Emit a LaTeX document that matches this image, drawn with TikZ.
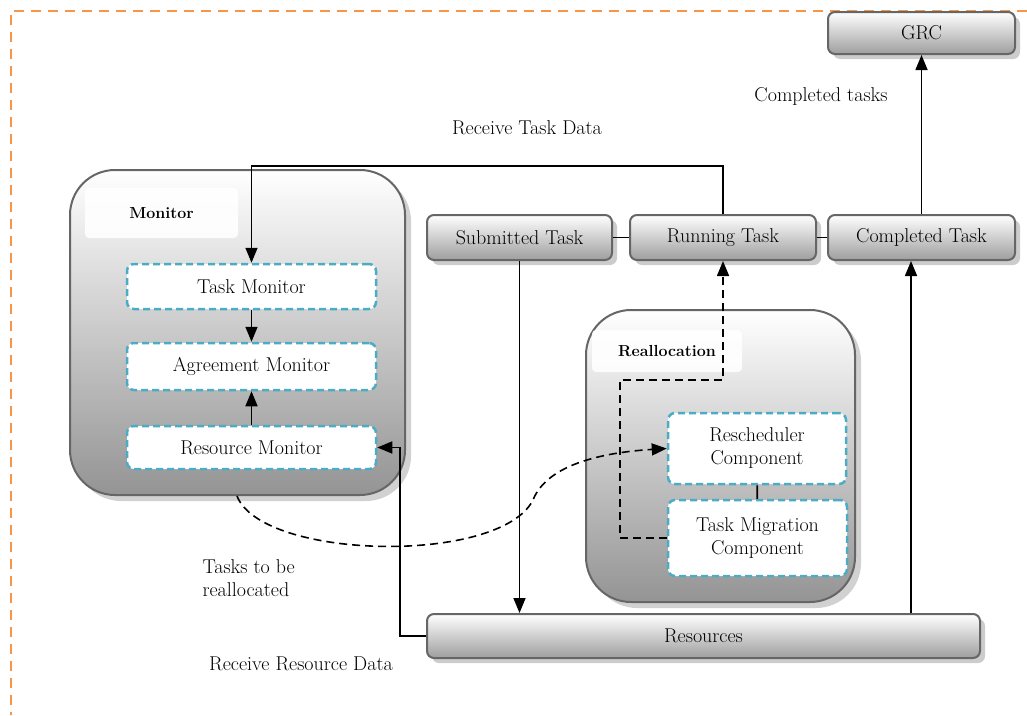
\documentclass[tikz,border=0pt]{standalone}
\usepackage{fontspec}
\usepackage{tikz}
\usetikzlibrary{arrows.meta,shadows}
\definecolor{frameorange}{HTML}{F79646}
\definecolor{compblue}{HTML}{4BACC6}
\tikzset{%
  txt/.style={font=\fontsize{20}{23}\selectfont},
  stage/.style={txt, draw=black!60, line width=2pt, rounded corners=7pt,
                top color=white, bottom color=black!38, inner sep=0pt,
                drop shadow={shadow xshift=5pt, shadow yshift=-5pt, fill=black!20, opacity=1}},
  group/.style={draw=black!60, line width=2pt, rounded corners=45pt,
                top color=white, bottom color=black!42, inner sep=0pt,
                drop shadow={shadow xshift=6pt, shadow yshift=-6pt, fill=black!18, opacity=1}},
  tag/.style={font=\fontsize{16}{19}\selectfont\bfseries, fill=white, fill opacity=0.9,
              text opacity=1, rounded corners=4pt, inner sep=0pt},
  comp/.style={txt, draw=compblue, line width=2.5pt, dash pattern=on 7pt off 4pt,
               rounded corners=7pt, fill=white, inner sep=0pt, align=center},
  flow/.style={line width=1.6pt, -{Triangle[length=15pt, width=12pt]}},
  dashflow/.style={flow, dash pattern=on 8pt off 5pt},
  link/.style={line width=1.6pt},
}

\begin{document}
\begin{tikzpicture}[x=1pt, y=-1pt]
    \useasboundingbox (0,0) rectangle (1027,715);

    %outer frame
    \draw[frameorange, line width=2pt, dash pattern=on 10pt off 7pt] (1027,11) -- (11,11) -- (11,715);

    %groups
    \node[group, minimum width=335pt, minimum height=325pt] (monitor) at (237.5,332.5) {};
    \node[tag, minimum width=153pt, minimum height=50pt] (monitortag) at (161.5,213) {Monitor};
    \node[group, minimum width=269pt, minimum height=292pt] (realloc) at (720.5,456) {};
    \node[tag, minimum width=150pt, minimum height=42pt] (realloctag) at (667,351) {Reallocation};

    %monitor parts
    \node[comp, minimum width=249pt, minimum height=45pt] (taskmon) at (251.5,286.5) {Task Monitor};
    \node[comp, minimum width=249pt, minimum height=47pt] (agreemon) at (251.5,366.5) {Agreement Monitor};
    \node[comp, minimum width=249pt, minimum height=43pt] (resmon) at (251.5,447.5) {Resource Monitor};

    %reallocation parts
    \node[comp, minimum width=178pt, minimum height=71pt] (resched) at (757,448.5) {Rescheduler\\Component};
    \node[comp, minimum width=179pt, minimum height=76pt] (migrate) at (757.5,538) {Task Migration\\Component};

    %task stages
    \node[stage, minimum width=185pt, minimum height=45pt] (submitted) at (519.5,237.5) {Submitted Task};
    \node[stage, minimum width=186pt, minimum height=45pt] (running) at (723,237.5) {Running Task};
    \node[stage, minimum width=187pt, minimum height=45pt] (completed) at (921.5,237.5) {Completed Task};
    \node[stage, minimum width=187pt, minimum height=42pt] (grc) at (921.5,33) {GRC};
    \node[stage, minimum width=553pt, minimum height=44pt] (resources) at (703.5,636) {Resources};

    %labels
    \node[txt] (lbltask) at (527,128) {Receive Task Data};
    \node[txt] (lbldone) at (821,96) {Completed tasks};
    \node[txt, align=left, anchor=west] (lblmove) at (199,578) {Tasks to be\\reallocated};
    \node[txt] (lblres) at (301,664) {Receive Resource Data};

    %connectors
    \draw[link] (submitted) -- (running);
    \draw[link] (running) -- (completed);
    \draw[link] (resched) -- (migrate);
    \draw[flow] (taskmon) -- (agreemon);
    \draw[flow] (resmon) -- (agreemon);
    \draw[flow] (completed) -- (grc);
    \draw[flow] (running.north) -- ++(0,-48) -| (taskmon.north);
    \draw[flow] (submitted.south) -- (submitted.south |- resources.north);
    \draw[flow] ([xshift=207.5pt]resources.north) -- ([xshift=207.5pt]resources.north |- completed.south);
    \draw[flow] (resources.west) -- ++(-26,0) |- (resmon.east);

    % reallocation paths
    \draw[dashflow] (migrate.west) -- ++(-47,0) -- ++(0,-158) -| (running.south);
    \draw[dashflow] ([xshift=-0.5pt]monitor.south) .. controls (262,560) and (500,565) .. (533,500)
        .. controls (548,462) and (610,452) .. (resched.west);
\end{tikzpicture}
\end{document}
